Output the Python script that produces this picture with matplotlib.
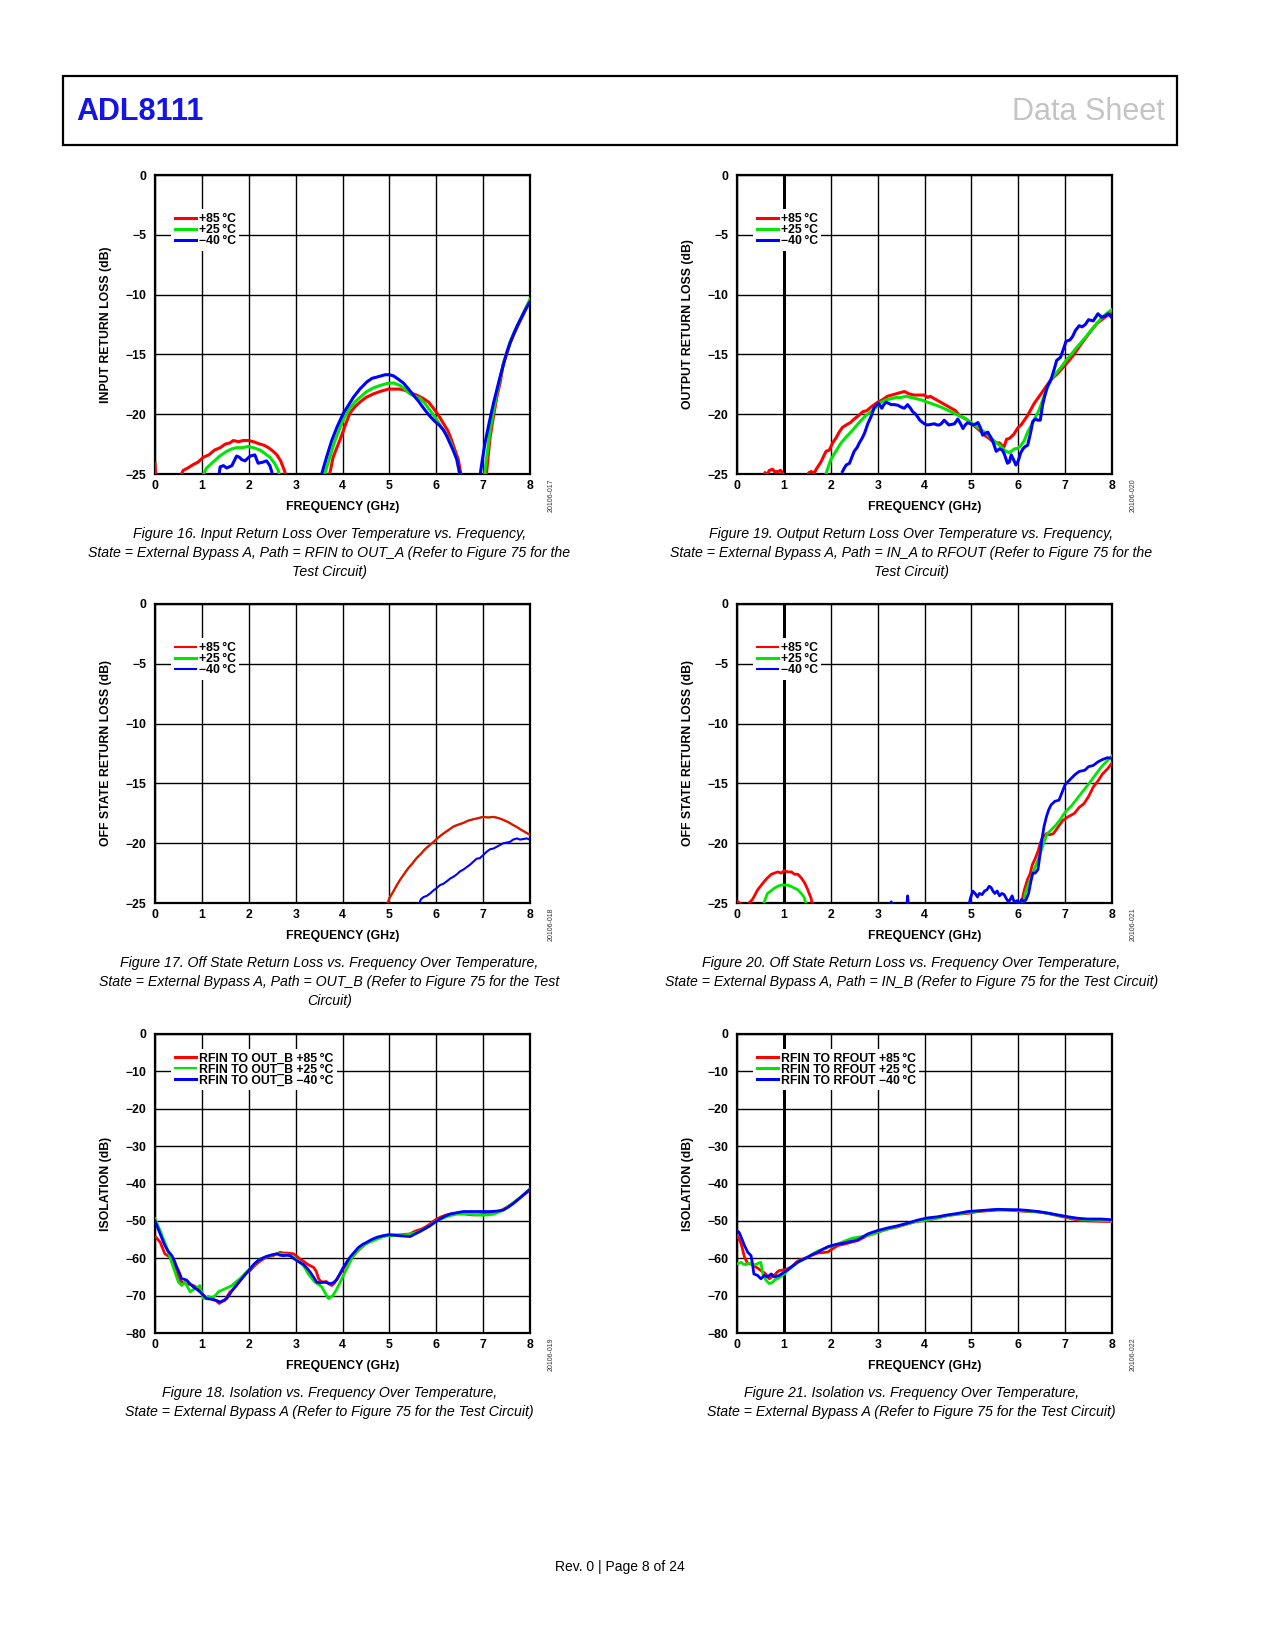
import numpy as np
import matplotlib.pyplot as plt
from matplotlib.patches import Rectangle

GAP = (np.nan, np.nan)

# Figure 16 - input return loss (dB) vs frequency (GHz)
fig16_p85 = [(0.0, -24.1), (0.02, -25.5), GAP,
             (0.53, -25.3), (0.6, -24.7), (0.7, -24.5), (0.82, -24.2), (0.92, -24.0), (1.03, -23.6),
             (1.15, -23.4), (1.27, -23.0), (1.39, -22.8), (1.5, -22.5), (1.6, -22.4), (1.67, -22.2),
             (1.78, -22.3), (1.88, -22.2), (1.99, -22.2), (2.1, -22.3), (2.24, -22.5), (2.33, -22.6),
             (2.42, -22.8), (2.52, -23.1), (2.6, -23.4), (2.68, -23.9), (2.77, -24.8), (2.8, -25.5), GAP,
             (3.7, -25.5), (3.8, -23.6), (3.9, -22.6), (3.98, -21.8), (4.07, -20.8), (4.16, -19.9),
             (4.26, -19.4), (4.37, -19.0), (4.5, -18.6), (4.66, -18.3), (4.8, -18.1), (4.98, -17.9),
             (5.1, -17.9), (5.23, -17.9), (5.33, -18.0), (5.44, -18.2), (5.58, -18.4), (5.73, -18.7),
             (5.84, -19.0), (5.94, -19.5), (6.05, -20.1), (6.15, -20.75), (6.25, -21.4), (6.33, -22.2),
             (6.4, -23.0), (6.47, -23.8), (6.55, -25.5), GAP,
             (7.06, -25.5), (7.1, -23.8), (7.15, -21.9), (7.22, -20.2), (7.29, -18.6), (7.36, -17.4),
             (7.43, -15.8), (7.5, -15.0), (7.57, -14.1), (7.68, -13.1), (7.79, -12.2), (7.9, -11.3),
             (8.0, -10.5)]
fig16_p25 = [(1.0, -25.3), (1.1, -24.5), (1.24, -24.0), (1.38, -23.5), (1.53, -23.1), (1.64, -22.9),
             (1.74, -22.8), (1.86, -22.8), (1.99, -22.7), (2.1, -22.8), (2.24, -23.0), (2.35, -23.3),
             (2.45, -23.6), (2.55, -24.1), (2.63, -24.7), (2.68, -25.5), GAP,
             (3.59, -25.5), (3.66, -24.5), (3.73, -23.6), (3.84, -22.2), (3.95, -21.1), (4.05, -20.2),
             (4.16, -19.5), (4.26, -19.0), (4.37, -18.6), (4.52, -18.1), (4.66, -17.8), (4.8, -17.6),
             (4.98, -17.4), (5.1, -17.4), (5.23, -17.6), (5.33, -17.9), (5.44, -18.3), (5.55, -18.5),
             (5.66, -18.7), (5.76, -19.1), (5.87, -19.7), (5.97, -20.2), (6.08, -20.9), (6.18, -21.5),
             (6.29, -22.2), (6.37, -23.0), (6.44, -23.8), (6.52, -25.5), GAP,
             (7.02, -25.5), (7.08, -23.5), (7.15, -21.3), (7.22, -19.8), (7.29, -18.3), (7.36, -17.0),
             (7.43, -15.8), (7.5, -14.9), (7.57, -14.0), (7.68, -13.0), (7.79, -12.1), (7.9, -11.2),
             (8.0, -10.4)]
fig16_m40 = [(1.35, -25.5), (1.39, -24.4), (1.46, -24.3), (1.53, -24.5), (1.64, -24.3), (1.74, -23.5),
             (1.8, -23.6), (1.85, -23.8), (1.92, -23.9), (2.03, -23.5), (2.13, -23.4), (2.2, -24.1),
             (2.31, -24.0), (2.38, -23.9), (2.45, -24.3), (2.49, -24.8), (2.52, -25.5), GAP,
             (3.52, -25.5), (3.6, -24.4), (3.66, -23.6), (3.77, -22.2), (3.88, -21.1), (4.02, -19.9),
             (4.12, -19.3), (4.23, -18.6), (4.37, -17.9), (4.52, -17.3), (4.63, -17.0), (4.73, -16.9),
             (4.82, -16.8), (4.91, -16.7), (5.0, -16.7), (5.09, -16.8), (5.2, -17.1), (5.3, -17.4),
             (5.41, -17.9), (5.51, -18.4), (5.62, -18.9), (5.73, -19.5), (5.85, -20.1), (5.97, -20.6),
             (6.06, -20.9), (6.15, -21.3), (6.22, -21.8), (6.29, -22.4), (6.37, -23.1), (6.44, -23.8),
             (6.53, -25.5), GAP,
             (6.92, -25.5), (6.98, -23.9), (7.04, -22.4), (7.13, -20.7), (7.22, -19.1), (7.29, -18.0),
             (7.36, -16.9), (7.43, -15.9), (7.5, -14.9), (7.57, -14.1), (7.64, -13.4), (7.73, -12.6),
             (7.82, -11.9), (7.91, -11.2), (8.0, -10.6)]

# Figure 19 - output return loss (dB)
fig19_p85 = [(0.6, -24.9), (0.65, -25.0), (0.69, -24.7), (0.76, -24.6), (0.8, -24.8), (0.87, -24.8),
             (0.93, -24.7), (0.97, -24.9), (1.01, -25.3), GAP,
             (1.49, -25.5), (1.53, -24.9), (1.58, -24.8), (1.65, -24.9), (1.69, -24.6), (1.79, -24.0),
             (1.85, -23.5), (1.9, -23.1), (1.97, -23.0), (2.04, -22.4), (2.11, -22.0), (2.18, -21.5),
             (2.25, -21.1), (2.33, -20.9), (2.42, -20.7), (2.5, -20.4), (2.6, -20.1), (2.68, -19.8),
             (2.77, -19.7), (2.86, -19.4), (2.93, -19.2), (3.0, -19.0), (3.1, -18.8), (3.21, -18.5),
             (3.3, -18.4), (3.39, -18.3), (3.48, -18.2), (3.57, -18.1), (3.67, -18.3), (3.78, -18.4),
             (3.9, -18.4), (4.0, -18.4), (4.07, -18.6), (4.12, -18.5), (4.21, -18.7), (4.3, -18.9),
             (4.39, -19.1), (4.48, -19.3), (4.57, -19.5), (4.66, -19.7), (4.74, -20.1), (4.83, -20.3),
             (4.92, -20.5), (5.01, -20.8), (5.1, -21.1), (5.19, -21.4), (5.28, -21.75), (5.37, -22.0),
             (5.46, -22.3), (5.53, -22.4), (5.6, -22.4), (5.65, -22.6), (5.7, -22.7), (5.75, -22.1),
             (5.82, -22.0), (5.9, -21.7), (6.0, -21.1), (6.06, -20.9), (6.13, -20.5), (6.2, -20.1),
             (6.27, -19.6), (6.34, -19.1), (6.43, -18.6), (6.52, -18.1), (6.61, -17.6), (6.7, -17.1),
             (6.84, -16.6), (7.0, -15.9), (7.17, -15.1), (7.33, -14.2), (7.5, -13.3), (7.68, -12.4),
             (7.85, -11.9), (8.0, -11.45)]
fig19_p25 = [(1.86, -25.5), (1.93, -24.6), (2.0, -23.8), (2.11, -23.1), (2.22, -22.4), (2.33, -21.9),
             (2.43, -21.5), (2.54, -21.0), (2.65, -20.5), (2.75, -20.1), (2.86, -19.8), (2.97, -19.4),
             (3.07, -19.0), (3.18, -18.8), (3.29, -18.7), (3.4, -18.6), (3.5, -18.6), (3.6, -18.5),
             (3.71, -18.6), (3.82, -18.7), (3.93, -18.8), (4.03, -18.95), (4.14, -19.1), (4.25, -19.25),
             (4.35, -19.4), (4.46, -19.6), (4.57, -19.8), (4.67, -20.0), (4.78, -20.2), (4.89, -20.4),
             (4.99, -20.7), (5.1, -21.0), (5.21, -21.3), (5.31, -21.6), (5.42, -22.0), (5.51, -22.3),
             (5.6, -22.6), (5.68, -22.9), (5.74, -23.1), (5.8, -23.2), (5.85, -23.1), (5.92, -22.9),
             (5.99, -22.85), (6.06, -22.6), (6.13, -22.2), (6.2, -21.5), (6.27, -21.0), (6.36, -20.3),
             (6.45, -19.6), (6.55, -18.5), (6.63, -17.7), (6.7, -17.1), (6.8, -16.6), (6.91, -16.1),
             (7.0, -15.6), (7.13, -15.0), (7.23, -14.5), (7.34, -14.0), (7.45, -13.5), (7.55, -13.0),
             (7.66, -12.5), (7.77, -12.0), (7.88, -11.6), (8.0, -11.25)]
fig19_m40 = [(2.25, -24.8), (2.29, -24.5), (2.33, -24.25), (2.4, -24.1), (2.45, -23.6), (2.5, -23.1),
             (2.56, -22.8), (2.61, -22.4), (2.67, -22.0), (2.72, -21.6), (2.79, -20.8), (2.86, -20.2),
             (2.93, -19.4), (3.02, -19.1), (3.09, -19.5), (3.13, -19.2), (3.18, -19.0), (3.24, -19.1),
             (3.29, -19.2), (3.36, -19.2), (3.43, -19.25), (3.5, -19.4), (3.57, -19.5), (3.64, -19.2),
             (3.7, -19.5), (3.75, -19.8), (3.8, -19.95), (3.85, -20.2), (3.9, -20.5), (3.96, -20.7),
             (4.02, -20.85), (4.07, -20.9), (4.14, -20.85), (4.21, -20.8), (4.27, -20.9), (4.32, -20.9),
             (4.37, -20.75), (4.42, -20.5), (4.47, -20.7), (4.52, -20.9), (4.58, -20.85), (4.64, -20.8),
             (4.71, -20.4), (4.77, -20.8), (4.82, -21.2), (4.87, -20.9), (4.92, -20.7), (4.98, -20.8),
             (5.03, -20.9), (5.1, -20.8), (5.14, -20.7), (5.19, -21.1), (5.24, -21.75), (5.3, -21.6),
             (5.35, -21.5), (5.41, -21.9), (5.46, -22.3), (5.53, -23.1), (5.6, -22.9), (5.66, -23.0),
             (5.7, -23.3), (5.77, -24.1), (5.81, -24.0), (5.85, -23.4), (5.9, -23.8), (5.95, -24.25),
             (6.0, -23.9), (6.05, -23.25), (6.1, -22.9), (6.15, -22.7), (6.2, -22.6), (6.26, -21.6),
             (6.31, -20.6), (6.37, -20.4), (6.42, -20.5), (6.47, -20.5), (6.52, -19.2), (6.57, -18.4),
             (6.62, -17.7), (6.7, -17.1), (6.77, -16.2), (6.82, -15.5), (6.9, -15.25), (6.96, -14.6),
             (7.02, -13.9), (7.1, -13.8), (7.16, -13.5), (7.22, -13.0), (7.3, -12.6), (7.36, -12.7),
             (7.43, -12.5), (7.5, -12.1), (7.6, -12.2), (7.7, -11.6), (7.78, -11.9), (7.85, -11.8),
             (7.92, -11.6), (8.0, -11.95)]

# Figure 17 - off state return loss, path OUT_B
fig17_p85 = [(4.94, -25.3), (5.0, -24.6), (5.09, -24.0), (5.16, -23.5), (5.23, -23.05), (5.31, -22.6),
             (5.4, -22.1), (5.49, -21.7), (5.58, -21.25), (5.67, -20.9), (5.76, -20.5), (5.85, -20.2),
             (5.94, -19.9), (6.05, -19.5), (6.15, -19.2), (6.26, -18.9), (6.37, -18.6), (6.47, -18.45),
             (6.58, -18.3), (6.69, -18.1), (6.79, -18.0), (6.9, -17.9), (7.0, -17.8), (7.11, -17.85),
             (7.22, -17.8), (7.33, -17.9), (7.43, -18.05), (7.54, -18.25), (7.65, -18.5), (7.74, -18.7),
             (7.82, -18.9), (7.91, -19.1), (8.0, -19.3)]
fig17_p25 = fig17_p85  # hidden under the +85 trace in the original
fig17_m40 = [(5.62, -25.3), (5.67, -24.7), (5.73, -24.5), (5.8, -24.4), (5.87, -24.2), (5.94, -23.95),
             (6.01, -23.75), (6.08, -23.5), (6.15, -23.4), (6.22, -23.2), (6.3, -22.95), (6.37, -22.8),
             (6.44, -22.6), (6.51, -22.35), (6.58, -22.2), (6.65, -22.0), (6.72, -21.8), (6.79, -21.55),
             (6.86, -21.3), (6.93, -21.25), (7.0, -21.0), (7.08, -20.7), (7.15, -20.5), (7.22, -20.45),
             (7.29, -20.3), (7.36, -20.15), (7.43, -20.0), (7.5, -19.95), (7.57, -19.9), (7.64, -19.7),
             (7.72, -19.6), (7.79, -19.7), (7.86, -19.65), (7.93, -19.6), (8.0, -19.7)]

# Figure 20 - off state return loss, path IN_B
fig20_p85 = [(0.0, -24.85), (0.1, -25.1), (0.2, -25.2), (0.28, -24.9), (0.33, -24.7), (0.4, -24.2),
             (0.44, -23.9), (0.5, -23.6), (0.58, -23.2), (0.65, -22.9), (0.73, -22.6), (0.8, -22.5),
             (0.87, -22.4), (0.94, -22.5), (1.01, -22.3), (1.08, -22.4), (1.16, -22.4), (1.23, -22.6),
             (1.3, -22.6), (1.37, -22.9), (1.44, -23.3), (1.5, -23.8), (1.54, -24.2), (1.58, -24.6),
             (1.62, -25.4), GAP,
             (6.06, -25.4), (6.1, -24.4), (6.13, -23.9), (6.2, -23.0), (6.25, -22.6), (6.3, -21.8),
             (6.36, -21.3), (6.42, -20.7), (6.47, -20.0), (6.52, -19.5), (6.6, -19.2), (6.67, -19.3),
             (6.75, -19.2), (6.84, -18.7), (6.95, -18.1), (7.06, -17.8), (7.2, -17.5), (7.3, -17.0),
             (7.4, -16.7), (7.5, -16.1), (7.6, -15.3), (7.7, -14.8), (7.8, -14.2), (7.9, -13.8),
             (8.0, -13.3)]
fig20_p25 = [(0.55, -25.3), (0.6, -24.7), (0.65, -24.2), (0.72, -24.0), (0.8, -23.75), (0.87, -23.6),
             (0.94, -23.5), (1.01, -23.5), (1.08, -23.5), (1.15, -23.6), (1.22, -23.75), (1.3, -23.9),
             (1.37, -24.2), (1.43, -24.5), (1.49, -25.3), GAP,
             (6.09, -25.4), (6.15, -24.2), (6.2, -23.6), (6.31, -22.5), (6.42, -21.4), (6.49, -20.6),
             (6.56, -19.8), (6.62, -19.2), (6.7, -18.9), (6.8, -18.5), (6.9, -18.0), (7.0, -17.4),
             (7.13, -16.9), (7.27, -16.2), (7.41, -15.5), (7.55, -14.8), (7.68, -14.1), (7.8, -13.5),
             (7.9, -13.1), (8.0, -12.7)]
fig20_m40 = [(3.26, -25.3), (3.29, -24.9), (3.31, -25.3), GAP, (3.62, -25.3), (3.64, -24.4), (3.66, -25.3), GAP,
             (4.94, -25.3), (4.98, -24.6), (5.03, -24.0), (5.08, -24.2), (5.13, -24.5), (5.17, -24.2),
             (5.23, -24.3), (5.28, -24.0), (5.33, -23.9), (5.38, -23.6), (5.42, -23.7), (5.46, -24.0),
             (5.5, -24.2), (5.55, -24.0), (5.6, -24.4), (5.65, -24.2), (5.7, -24.3), (5.74, -24.6),
             (5.79, -24.9), (5.83, -24.7), (5.87, -24.4), (5.92, -25.0), (5.97, -24.8), (6.02, -25.1),
             (6.07, -24.7), (6.12, -24.9), (6.17, -24.7), (6.22, -24.2), (6.27, -23.2), (6.31, -22.5),
             (6.36, -22.5), (6.42, -22.2), (6.46, -21.1), (6.5, -19.8), (6.55, -18.6), (6.6, -17.8),
             (6.65, -17.2), (6.7, -16.8), (6.78, -16.5), (6.87, -16.4), (6.95, -15.6), (7.0, -15.1),
             (7.1, -14.7), (7.2, -14.3), (7.3, -14.0), (7.42, -13.9), (7.5, -13.6), (7.6, -13.5),
             (7.7, -13.2), (7.8, -13.0), (7.9, -12.85), (8.0, -12.9)]

# Figure 18 - isolation RFIN to OUT_B
fig18_p85 = [(0.02, -54.4), (0.11, -55.7), (0.21, -58.8), (0.32, -59.7), (0.43, -62.8), (0.53, -65.9),
             (0.6, -66.6), (0.68, -66.8), (0.75, -67.0), (0.82, -67.3), (0.9, -67.9), (0.96, -68.6),
             (1.03, -69.8), (1.1, -70.8), (1.17, -70.6), (1.24, -70.9), (1.31, -71.4), (1.37, -72.1),
             (1.43, -71.6), (1.49, -71.3), (1.55, -70.0), (1.6, -69.0), (1.67, -68.3), (1.74, -67.3),
             (1.81, -66.1), (1.88, -65.0), (1.95, -64.0), (2.03, -63.3), (2.1, -62.3), (2.17, -61.5),
             (2.26, -60.6), (2.35, -59.9), (2.44, -59.5), (2.52, -59.3), (2.6, -58.8), (2.67, -58.4),
             (2.74, -58.6), (2.81, -58.6), (2.88, -58.7), (2.95, -58.8), (3.02, -59.4), (3.09, -60.2),
             (3.17, -60.8), (3.24, -61.5), (3.31, -62.0), (3.38, -62.4), (3.44, -63.5), (3.49, -65.5),
             (3.54, -66.2), (3.59, -66.4), (3.65, -66.2), (3.7, -66.8), (3.77, -67.3), (3.83, -66.6),
             (3.88, -65.5), (3.95, -64.2), (4.02, -62.8), (4.09, -61.6), (4.16, -60.6), (4.23, -59.4),
             (4.3, -58.4), (4.39, -57.3), (4.48, -56.2), (4.57, -55.6), (4.66, -55.1), (4.75, -54.6),
             (4.84, -54.2), (4.93, -53.9), (5.01, -53.8), (5.12, -53.8), (5.23, -53.8), (5.33, -53.6),
             (5.44, -53.5), (5.51, -53.0), (5.58, -52.6), (5.66, -52.3), (5.73, -51.9), (5.8, -51.4),
             (5.87, -50.8), (5.94, -50.1), (6.01, -49.5), (6.11, -48.9), (6.22, -48.4), (6.33, -48.1),
             (6.44, -48.0), (6.55, -48.1), (6.65, -48.2), (6.76, -48.4), (6.86, -48.4), (6.97, -48.3),
             (7.08, -48.2), (7.19, -48.0), (7.29, -47.7), (7.4, -47.1), (7.5, -46.4), (7.61, -45.5),
             (7.72, -44.5), (7.85, -43.2), (8.0, -41.8)]
fig18_p25 = [(0.0, -49.5), (0.11, -52.6), (0.25, -57.1), (0.39, -62.4), (0.5, -66.4), (0.57, -67.3),
             (0.64, -66.4), (0.7, -67.8), (0.75, -69.0), (0.8, -68.5), (0.85, -68.2), (0.9, -67.8),
             (0.96, -67.3), (1.03, -70.8), (1.1, -70.5), (1.14, -70.2), (1.2, -70.6), (1.24, -70.4),
             (1.3, -69.8), (1.35, -69.0), (1.42, -68.6), (1.49, -68.2), (1.56, -67.8), (1.64, -67.3),
             (1.72, -66.4), (1.81, -65.5), (1.92, -64.1), (2.03, -62.8), (2.13, -61.5), (2.24, -60.2),
             (2.35, -59.7), (2.45, -59.3), (2.54, -59.0), (2.63, -58.8), (2.72, -58.9), (2.81, -59.0),
             (2.88, -59.3), (2.95, -59.7), (3.04, -60.5), (3.13, -61.5), (3.2, -62.6), (3.27, -64.2),
             (3.34, -65.3), (3.41, -66.4), (3.49, -67.0), (3.56, -67.7), (3.63, -69.3), (3.7, -70.8),
             (3.75, -70.4), (3.8, -69.9), (3.88, -68.2), (3.95, -66.4), (4.02, -64.6), (4.09, -62.8),
             (4.16, -61.0), (4.23, -59.3), (4.34, -57.8), (4.45, -56.6), (4.55, -55.8), (4.66, -55.3),
             (4.77, -54.7), (4.87, -54.2), (4.98, -54.0), (5.09, -53.9), (5.23, -53.7), (5.37, -53.7),
             (5.48, -53.4), (5.58, -53.1), (5.69, -52.5), (5.8, -51.8), (5.9, -50.9), (6.01, -50.0),
             (6.12, -49.4), (6.22, -48.9), (6.33, -48.5), (6.44, -48.2), (6.58, -48.1), (6.72, -48.2),
             (6.86, -48.4), (7.0, -48.5), (7.11, -48.4), (7.22, -48.2), (7.33, -47.7), (7.43, -47.1),
             (7.54, -46.1), (7.65, -45.1), (7.82, -43.4), (8.0, -41.5)]
fig18_m40 = [(0.0, -50.0), (0.11, -53.5), (0.21, -56.6), (0.28, -58.1), (0.36, -59.3), (0.41, -60.6),
             (0.46, -62.2), (0.52, -63.9), (0.57, -65.5), (0.62, -65.6), (0.68, -65.9), (0.75, -66.9),
             (0.82, -67.7), (0.89, -68.3), (0.96, -69.0), (1.03, -69.9), (1.1, -70.8), (1.17, -70.9),
             (1.24, -71.1), (1.31, -71.3), (1.39, -71.7), (1.46, -71.3), (1.53, -70.8), (1.6, -69.5),
             (1.67, -68.2), (1.76, -66.8), (1.85, -65.5), (1.94, -64.1), (2.03, -62.8), (2.11, -61.6),
             (2.2, -60.6), (2.29, -60.0), (2.38, -59.5), (2.49, -59.1), (2.6, -58.8), (2.67, -59.2),
             (2.74, -59.3), (2.81, -59.2), (2.88, -59.3), (2.95, -60.0), (3.02, -60.6), (3.1, -61.2),
             (3.17, -61.7), (3.24, -62.6), (3.31, -63.7), (3.38, -65.0), (3.45, -66.4), (3.52, -66.6),
             (3.59, -66.4), (3.66, -66.5), (3.73, -66.8), (3.8, -66.6), (3.88, -65.7), (3.95, -64.0),
             (4.02, -62.4), (4.09, -61.0), (4.16, -59.7), (4.25, -58.4), (4.34, -57.1), (4.43, -56.3),
             (4.52, -55.7), (4.62, -55.0), (4.73, -54.4), (4.85, -54.0), (4.98, -53.7), (5.1, -53.8),
             (5.23, -54.0), (5.33, -54.1), (5.44, -54.2), (5.55, -53.5), (5.66, -52.8), (5.76, -52.1),
             (5.87, -51.3), (5.97, -50.4), (6.08, -49.5), (6.18, -48.8), (6.29, -48.2), (6.44, -47.8),
             (6.58, -47.5), (6.72, -47.5), (6.86, -47.5), (7.0, -47.5), (7.15, -47.5), (7.29, -47.4),
             (7.43, -47.1), (7.54, -46.3), (7.65, -45.3), (7.82, -43.5), (8.0, -41.5)]

# Figure 21 - isolation RFIN to RFOUT
fig21_p85 = [(0.0, -53.9), (0.05, -55.0), (0.09, -56.2), (0.16, -59.7), (0.23, -61.5), (0.3, -61.5),
             (0.36, -62.0), (0.41, -62.4), (0.46, -62.8), (0.51, -63.3), (0.57, -63.8), (0.62, -64.3),
             (0.69, -65.5), (0.74, -65.0), (0.8, -64.6), (0.85, -63.8), (0.9, -63.3), (1.01, -63.1),
             (1.08, -62.8), (1.15, -62.4), (1.22, -61.6), (1.29, -60.8), (1.4, -60.2), (1.51, -59.7),
             (1.61, -59.1), (1.72, -58.6), (1.83, -58.5), (1.94, -58.3), (2.05, -57.4), (2.15, -56.6),
             (2.26, -56.3), (2.36, -56.0), (2.47, -55.6), (2.57, -55.3), (2.68, -54.6), (2.79, -53.9),
             (2.9, -53.5), (3.0, -53.1), (3.11, -52.6), (3.21, -52.2), (3.32, -51.9), (3.43, -51.6),
             (3.53, -51.2), (3.64, -50.8), (3.75, -50.4), (3.85, -50.1), (4.07, -49.8), (4.28, -49.2),
             (4.49, -48.6), (4.71, -48.2), (4.92, -48.0), (5.14, -47.5), (5.35, -47.3), (5.56, -47.1),
             (5.77, -47.1), (5.99, -47.3), (6.2, -47.5), (6.42, -47.6), (6.63, -48.0), (6.84, -48.6),
             (7.06, -49.2), (7.27, -49.8), (7.48, -50.0), (7.77, -50.1), (8.0, -50.2)]
fig21_p25 = [(0.0, -61.5), (0.09, -61.1), (0.14, -61.6), (0.19, -61.7), (0.25, -61.3), (0.3, -61.4),
             (0.36, -61.8), (0.41, -61.6), (0.46, -61.3), (0.51, -61.1), (0.55, -64.2), (0.62, -65.9),
             (0.69, -66.8), (0.75, -66.5), (0.8, -65.9), (0.87, -65.4), (0.94, -64.9), (1.01, -64.2),
             (1.08, -63.3), (1.18, -62.3), (1.29, -61.1), (1.4, -60.4), (1.51, -59.7), (1.61, -58.9),
             (1.72, -58.1), (1.83, -57.6), (1.94, -57.1), (2.05, -56.6), (2.15, -56.2), (2.26, -55.6),
             (2.36, -55.1), (2.47, -54.6), (2.57, -54.4), (2.68, -54.2), (2.79, -53.9), (2.9, -53.5),
             (3.0, -53.0), (3.21, -52.2), (3.43, -51.5), (3.64, -50.8), (3.85, -50.1), (4.07, -49.7),
             (4.28, -49.2), (4.49, -48.6), (4.71, -48.2), (4.92, -47.8), (5.14, -47.4), (5.35, -47.2),
             (5.56, -47.0), (5.77, -47.0), (5.99, -47.2), (6.2, -47.4), (6.42, -47.6), (6.63, -48.0),
             (6.84, -48.5), (7.06, -49.0), (7.27, -49.5), (7.48, -49.7), (7.77, -49.9), (8.0, -50.0)]
fig21_m40 = [(0.0, -52.6), (0.05, -53.2), (0.09, -54.4), (0.16, -56.6), (0.23, -58.4), (0.3, -59.3),
             (0.33, -61.5), (0.36, -64.2), (0.44, -64.6), (0.51, -65.5), (0.58, -64.6), (0.65, -65.0),
             (0.7, -64.5), (0.73, -64.2), (0.8, -65.0), (0.9, -64.6), (1.01, -63.7), (1.08, -63.1),
             (1.15, -62.4), (1.22, -61.8), (1.29, -61.1), (1.4, -60.4), (1.51, -59.7), (1.61, -59.0),
             (1.72, -58.4), (1.83, -57.6), (1.94, -56.9), (2.05, -56.5), (2.15, -56.2), (2.26, -56.0),
             (2.36, -55.7), (2.47, -55.4), (2.57, -55.1), (2.68, -54.3), (2.79, -53.5), (2.9, -53.0),
             (3.0, -52.6), (3.21, -51.9), (3.43, -51.3), (3.64, -50.6), (3.85, -49.8), (4.07, -49.2),
             (4.28, -48.9), (4.49, -48.4), (4.71, -48.0), (4.92, -47.5), (5.14, -47.3), (5.35, -47.1),
             (5.56, -46.9), (5.77, -47.0), (5.99, -47.0), (6.2, -47.2), (6.42, -47.5), (6.63, -47.9),
             (6.84, -48.4), (7.06, -48.9), (7.27, -49.3), (7.48, -49.5), (7.77, -49.5), (8.0, -49.7)]

TEMPS = ['+85\u2009\u00b0C', '+25\u2009\u00b0C', '\u221240\u2009\u00b0C']
LABELS_18 = ['RFIN TO OUT_B ' + t for t in TEMPS]
LABELS_21 = ['RFIN TO RFOUT ' + t for t in TEMPS]
FREQ_TICKS = [0, 1, 2, 3, 4, 5, 6, 7, 8]
RL_TICKS = [0, -5, -10, -15, -20, -25]
ISO_TICKS = [0, -10, -20, -30, -40, -50, -60, -70, -80]
COLORS = ['#ff0000', '#00e600', '#0000ff']

plt.rcParams['font.family'] = ['Liberation Sans', 'DejaVu Sans']

W, H = 1275, 1650
AW, AH = 375, 299
fig = plt.figure(figsize=(W / 100, H / 100), dpi=100)


def panel(left, top, series, labels, yticks, ylabel, lw, leg_lw, leg_y, code, caption,
          thick1=False, zorders=(3, 3.1, 3.2)):
    ax = fig.add_axes([left / W, 1 - (top + AH) / H, AW / W, AH / H])
    for pts, col, lab, z in zip(series, COLORS, labels, zorders):
        f, db = zip(*pts)
        ax.plot(f, db, color=col, lw=lw, label=lab, zorder=z)
    ax.set_xlim(0, 8)
    ax.set_ylim(yticks[-1], 0)
    ax.set_xticks(FREQ_TICKS)
    ax.set_yticks(yticks)
    ax.set_yticklabels([str(v).replace('-', '\u2212') for v in yticks])
    ax.set_axisbelow(True)
    ax.grid(True, color='black', lw=1.0)
    if thick1:
        ax.axvline(1, color='black', lw=2.2, zorder=1.5)
    for s in ax.spines.values():
        s.set_linewidth(1.6)
    ax.tick_params(length=0, labelsize=8.8)
    ax.tick_params(axis='y', pad=6)
    ax.tick_params(axis='x', pad=4)
    for t in ax.get_xticklabels() + ax.get_yticklabels():
        t.set_fontweight('bold')
    ax.set_xlabel('FREQUENCY (GHz)', fontsize=8.8, fontweight='bold', va='center')
    ax.xaxis.set_label_coords(0.5, -33 / AH)
    ax.set_ylabel(ylabel, fontsize=8.8, fontweight='bold', va='center')
    ax.yaxis.set_label_coords(-49 / AW, 0.5)

    leg = ax.legend(loc='upper left', bbox_to_anchor=(0.043, leg_y), borderaxespad=0,
                    fancybox=False, framealpha=1, edgecolor='white',
                    prop={'weight': 'bold', 'size': 8.8}, handlelength=1.7,
                    handletextpad=0.25, labelspacing=-0.08, borderpad=0.3)
    leg.get_frame().set_linewidth(0)
    leg.set_zorder(5)
    for h, w in zip(leg.get_lines(), leg_lw):
        h.set_linewidth(w)

    fig.text((left + AW + 21) / W, 1 - (top + AH + 21) / H, code, rotation=90,
             fontsize=5, color='#333333', ha='center', va='center')
    cx = (left + AW / 2 - 13) / W
    for i, line in enumerate(caption):
        fig.text(cx, 1 - (top + AH + 60 + 19 * i) / H, line, ha='center', va='center',
                 fontsize=10.2, style='italic')
    return ax


LX, RX = 155, 737
ROWS = [175, 604, 1034]
THICK, THIN = 2.2, 1.5

panel(LX, ROWS[0], [fig16_p85, fig16_p25, fig16_m40], TEMPS, RL_TICKS,
      'INPUT RETURN LOSS (dB)', 2.2, [THICK] * 3, 0.885, '20106-017',
      ['Figure 16. Input Return Loss Over Temperature vs. Frequency,',
       'State = External Bypass A, Path = RFIN to OUT_A (Refer to Figure 75 for the',
       'Test Circuit)'])
panel(RX, ROWS[0], [fig19_p85, fig19_p25, fig19_m40], TEMPS, RL_TICKS,
      'OUTPUT RETURN LOSS (dB)', 2.2, [THICK] * 3, 0.885, '20106-020',
      ['Figure 19. Output Return Loss Over Temperature vs. Frequency,',
       'State = External Bypass A, Path = IN_A to RFOUT (Refer to Figure 75 for the',
       'Test Circuit)'], thick1=True)
panel(LX, ROWS[1], [fig17_p85, fig17_p25, fig17_m40], TEMPS, RL_TICKS,
      'OFF STATE RETURN LOSS (dB)', 1.5, [THIN, THICK, THIN], 0.885, '20106-018',
      ['Figure 17. Off State Return Loss vs. Frequency Over Temperature,',
       'State = External Bypass A, Path = OUT_B (Refer to Figure 75 for the Test',
       'Circuit)'], zorders=(3.2, 3, 3.1))
panel(RX, ROWS[1], [fig20_p85, fig20_p25, fig20_m40], TEMPS, RL_TICKS,
      'OFF STATE RETURN LOSS (dB)', 2.0, [THIN, THICK, THIN], 0.885, '20106-021',
      ['Figure 20. Off State Return Loss vs. Frequency Over Temperature,',
       'State = External Bypass A, Path = IN_B (Refer to Figure 75 for the Test Circuit)'],
      thick1=True)
panel(LX, ROWS[2], [fig18_p85, fig18_p25, fig18_m40], LABELS_18, ISO_TICKS,
      'ISOLATION (dB)', 2.0, [THICK, THIN, THICK], 0.95, '20106-019',
      ['Figure 18. Isolation vs. Frequency Over Temperature,',
       'State = External Bypass A (Refer to Figure 75 for the Test Circuit)'])
panel(RX, ROWS[2], [fig21_p85, fig21_p25, fig21_m40], LABELS_21, ISO_TICKS,
      'ISOLATION (dB)', 2.0, [THICK] * 3, 0.95, '20106-022',
      ['Figure 21. Isolation vs. Frequency Over Temperature,',
       'State = External Bypass A (Refer to Figure 75 for the Test Circuit)'],
      thick1=True)

# page header and footer
fig.add_artist(Rectangle((63 / W, 1 - 145 / H), (1177 - 63) / W, (145 - 76) / H,
                         transform=fig.transFigure, fill=False, lw=1.6, ec='black'))
fig.text(76 / W, 1 - 112 / H, 'ADL8111', fontsize=22, fontweight='bold', color='#1414e6',
         ha='left', va='center')
fig.text(1165 / W, 1 - 112 / H, 'Data Sheet', fontsize=22, color='#c4c4c4',
         ha='right', va='center')
fig.text(620 / W, 1 - 1567 / H, 'Rev. 0 | Page 8 of 24', fontsize=10, ha='center', va='center')

fig.savefig('out.png', dpi=100)
